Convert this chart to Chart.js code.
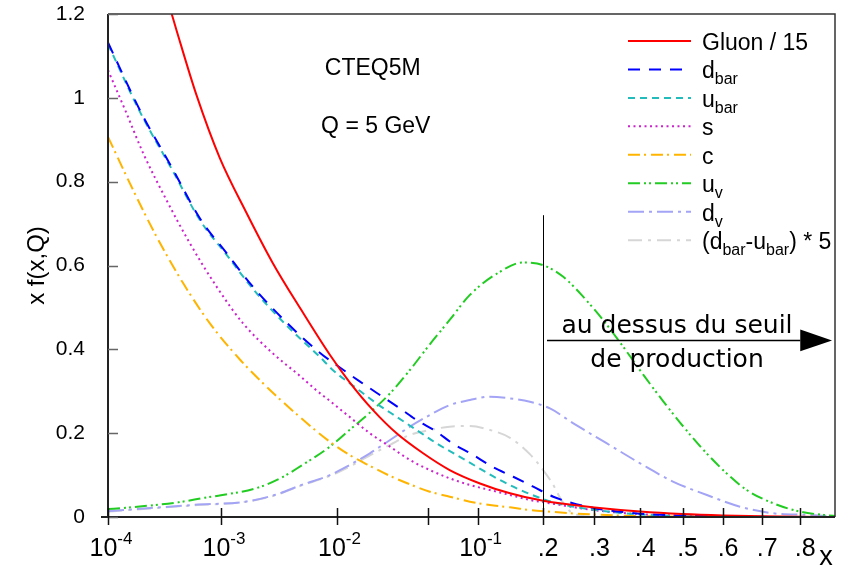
<!DOCTYPE html>
<html>
<head>
<meta charset="utf-8">
<script src="https://cdn.jsdelivr.net/npm/chart.js@4.4.1/dist/chart.umd.min.js"></script>
<style>html,body{margin:0;padding:0;background:#fff;}canvas{display:block;}</style>
</head>
<body>
<canvas id="c" width="841" height="568"></canvas>
<script>
// ---------------- data (x = momentum fraction, y = x f(x,Q)) ----------------
const gluonX = [3.67e-4, 4.04e-4, 6.07e-4, 9.75e-4, 1.675e-3, 2.86e-3, 4.97e-3, 8.79e-3, 0.0128, 0.0198, 0.030, 0.0464, 0.069, 0.103, 0.145, 0.2, 0.231, 0.3, 0.4, 0.5, 0.6, 0.7, 0.8, 0.9];
const gluonY = [1.2, 1.162, 1.007, 0.857, 0.726, 0.605, 0.496, 0.387, 0.322, 0.255, 0.1997, 0.152, 0.112, 0.080, 0.0565, 0.0389, 0.0327, 0.0227, 0.013, 0.007, 0.0035, 0.0015, 0.0005, 0.0001];

const dbarX = [1e-4, 1.915e-4, 3.78e-4, 6.53e-4, 1.117e-3, 1.914e-3, 3.75e-3, 7.23e-3, 9.97e-3, 0.0156, 0.0224, 0.0318, 0.0418, 0.057, 0.0717, 0.0946, 0.119, 0.15, 0.1828, 0.2185, 0.25, 0.3, 0.4, 0.5, 0.6, 0.7, 0.9];
const dbarY = [1.132, 0.971, 0.828, 0.712, 0.630, 0.549, 0.464, 0.392, 0.3626, 0.323, 0.291, 0.259, 0.2314, 0.2035, 0.1758, 0.148, 0.120, 0.096, 0.0723, 0.0484, 0.035, 0.021, 0.008, 0.003, 0.001, 0.0003, 0];

const ubarX = [1e-4, 1.915e-4, 3.78e-4, 6.53e-4, 1.117e-3, 1.914e-3, 3.75e-3, 7.23e-3, 9.3e-3, 0.0146, 0.0211, 0.030, 0.0418, 0.057, 0.0758, 0.0988, 0.1253, 0.1554, 0.189, 0.226, 0.3, 0.4, 0.5, 0.6, 0.8];
const ubarY = [1.128, 0.967, 0.824, 0.708, 0.626, 0.544, 0.457, 0.382, 0.3507, 0.307, 0.271, 0.239, 0.2076, 0.1758, 0.148, 0.120, 0.0923, 0.0685, 0.0484, 0.0327, 0.017, 0.006, 0.002, 0.0007, 0];

const sX = [1e-4, 1.46e-4, 2.05e-4, 3.3e-4, 5.31e-4, 9.17e-4, 1.563e-3, 2.86e-3, 4.97e-3, 6.78e-3, 8.79e-3, 0.0128, 0.0187, 0.0268, 0.0375, 0.0515, 0.069, 0.0907, 0.116, 0.145, 0.177, 0.2124, 0.25, 0.3, 0.4, 0.5, 0.6, 0.8];
const sY = [1.066, 0.963, 0.868, 0.756, 0.653, 0.549, 0.462, 0.390, 0.335, 0.302, 0.277, 0.239, 0.1997, 0.1677, 0.136, 0.112, 0.0923, 0.0763, 0.0644, 0.0525, 0.0406, 0.0327, 0.025, 0.016, 0.007, 0.003, 0.001, 0];

const cX = [1e-4, 1.67e-4, 2.69e-4, 4.64e-4, 7.98e-4, 1.48e-3, 2.51e-3, 5e-3, 8.79e-3, 0.0128, 0.0187, 0.0268, 0.0375, 0.0515, 0.069, 0.0907, 0.116, 0.145, 0.177, 0.2124, 0.25, 0.3, 0.4, 0.5, 0.6, 0.8];
const cY = [0.907, 0.780, 0.669, 0.5575, 0.462, 0.3745, 0.311, 0.236, 0.1797, 0.148, 0.122, 0.098, 0.078, 0.0604, 0.0484, 0.0365, 0.0286, 0.023, 0.0167, 0.0127, 0.009, 0.006, 0.002, 0.0008, 0.0002, 0];

const uvX = [1e-4, 1.43e-4, 4.19e-4, 7.23e-4, 1e-3, 2e-3, 3.3e-3, 5e-3, 8.79e-3, 0.0128, 0.0187, 0.0268, 0.0375, 0.0515, 0.069, 0.0907, 0.13, 0.165, 0.2, 0.2374, 0.2766, 0.318, 0.362, 0.4075, 0.4537, 0.502, 0.551, 0.609, 0.66, 0.729, 0.8, 0.862, 0.9];
const uvY = [0.019, 0.022, 0.035, 0.046, 0.052, 0.068, 0.092, 0.122, 0.1677, 0.2076, 0.249, 0.295, 0.3507, 0.412, 0.470, 0.530, 0.585, 0.607, 0.601, 0.573, 0.5256, 0.470, 0.406, 0.339, 0.276, 0.2154, 0.160, 0.104, 0.0644, 0.0327, 0.0127, 0.005, 0.002];

const dvX = [1e-4, 1.43e-4, 5.87e-4, 1.63e-3, 3e-3, 5e-3, 8.79e-3, 0.0128, 0.0187, 0.0268, 0.0375, 0.0515, 0.069, 0.0907, 0.116, 0.145, 0.177, 0.2124, 0.257, 0.3255, 0.4, 0.478, 0.5595, 0.643, 0.729, 0.8175, 0.9];
const dvY = [0.014, 0.017, 0.029, 0.0365, 0.053, 0.076, 0.100, 0.124, 0.152, 0.1837, 0.2154, 0.2433, 0.267, 0.279, 0.287, 0.283, 0.275, 0.259, 0.2235, 0.176, 0.128, 0.084, 0.0525, 0.0246, 0.0088, 0.005, 0.001];

const diffX = [1e-4, 1.43e-4, 5.87e-4, 1.63e-3, 3e-3, 5e-3, 8.79e-3, 0.0128, 0.0187, 0.0268, 0.0375, 0.0515, 0.069, 0.0907, 0.116, 0.145, 0.177, 0.2, 0.217, 0.233, 0.25, 0.28, 0.32];
const diffY = [0.013, 0.016, 0.028, 0.036, 0.052, 0.075, 0.098, 0.120, 0.147, 0.172, 0.1956, 0.2076, 0.2154, 0.217, 0.2076, 0.1890, 0.150, 0.112, 0.080, 0.042, 0.014, 0.002, 0];

const seriesLabels = ['Gluon / 15', 'd_{bar}', 'u_{bar}', 's', 'c', 'u_{v}', 'd_{v}', '(d_{bar}-u_{bar}) * 5'];

// axis ticks
const xTickValues = [1e-4, 1e-3, 1e-2, 0.05, 0.1, 0.2, 0.3, 0.4, 0.5, 0.6, 0.7, 0.8];
const xTickLabels = ['10^-4', '10^-3', '10^-2', '', '10^-1', '.2', '.3', '.4', '.5', '.6', '.7', '.8'];
const xMin = 1e-4, xMax = 0.893;
const yMin = 0, yMax = 1.2, yStep = 0.2;

// annotations (data coordinates)
const thresholdX = 0.2, thresholdTop = 0.72;
const arrowY = 0.4215, arrowFromX = 0.207, arrowHeadX = 0.80, arrowTipX = 0.885, arrowHalf = 0.026;
const noteLines = ['au dessus du seuil', 'de production'];
const noteX = 0.4865, noteY = [0.438, 0.358];
const infoLines = ['CTEQ5M', 'Q = 5 GeV'];
const infoX = [0.0197, 0.0208], infoY = [1.0545, 0.916];

// ---------------- styling ----------------
const FONT = '"Liberation Sans", Arial, Helvetica, sans-serif';
const styles = [
  {color: '#ff0000', dash: []},
  {color: '#0000ff', dash: [12, 9]},
  {color: '#22bcbc', dash: [7, 5]},
  {color: '#cc22cc', dash: [2, 3.5]},
  {color: '#ffb400', dash: [12, 4, 2, 5]},
  {color: '#22cc22', dash: [12, 4, 2, 3, 2, 4]},
  {color: '#a4a4f6', dash: [16, 5, 3, 5]},
  {color: '#d6d6d6', dash: [14, 6, 3, 6]}
];

// warped x axis: logarithmic at small x, stretched towards large x
const K = 2.8;
function U(x) { return Math.log10(x) + K * x; }

const seriesX = [gluonX, dbarX, ubarX, sX, cX, uvX, dvX, diffX];
const seriesY = [gluonY, dbarY, ubarY, sY, cY, uvY, dvY, diffY];

const datasets = seriesX.map((xs, i) => ({
  label: seriesLabels[i],
  data: xs.map((x, j) => ({x: U(x), y: seriesY[i][j]})),
  borderColor: styles[i].color,
  borderDash: styles[i].dash,
  borderWidth: 2,
  pointRadius: 0,
  fill: false,
  cubicInterpolationMode: 'monotone'
}));

function parseRich(str, size, subSize) {
  const parts = [];
  const re = /_\{([^}]*)\}|\^(\S+)|([^_^]+)/g;
  let m;
  while ((m = re.exec(str)) !== null) {
    if (m[1] !== undefined) parts.push({t: m[1], size: subSize, dy: 6});
    else if (m[2] !== undefined) parts.push({t: m[2], size: subSize, dy: -12});
    else parts.push({t: m[3], size: size, dy: 0});
  }
  return parts;
}
function richWidth(ctx, parts) {
  let w = 0;
  for (const p of parts) { ctx.font = p.size + 'px ' + FONT; w += ctx.measureText(p.t).width; }
  return w;
}
function drawRich(ctx, parts, x, y) {
  let cx = x;
  for (const p of parts) {
    ctx.font = p.size + 'px ' + FONT;
    ctx.fillText(p.t, cx, y + p.dy);
    cx += ctx.measureText(p.t).width;
  }
}

const decor = {
  id: 'decor',
  afterDatasetsDraw(chart) {
    const ctx = chart.ctx, xs = chart.scales.x, ys = chart.scales.y, ca = chart.chartArea;
    ctx.save();
    // frame
    ctx.strokeStyle = '#333'; ctx.lineWidth = 1.5; ctx.setLineDash([]);
    ctx.beginPath();
    ctx.moveTo(ca.left, ca.top); ctx.lineTo(ca.right, ca.top); ctx.lineTo(ca.right, ca.bottom);
    ctx.stroke();
    ctx.strokeStyle = '#222'; ctx.lineWidth = 2;
    ctx.beginPath();
    ctx.moveTo(ca.left, ca.top); ctx.lineTo(ca.left, ca.bottom);
    ctx.moveTo(ca.left - 7, ca.bottom); ctx.lineTo(ca.right, ca.bottom);
    ctx.stroke();
    // y inner ticks
    ctx.strokeStyle = '#666'; ctx.lineWidth = 1.5;
    ctx.beginPath();
    for (const t of ys.ticks) {
      const py = Math.round(ys.getPixelForValue(t.value)) + 0.5;
      ctx.moveTo(ca.left, py); ctx.lineTo(ca.left + 10, py);
    }
    ctx.stroke();
    // x ticks and labels
    ctx.strokeStyle = '#111'; ctx.lineWidth = 1.5;
    ctx.beginPath();
    xs.ticks.forEach(t => {
      const px = Math.round(xs.getPixelForValue(t.value)) + 0.5;
      ctx.moveTo(px, ca.bottom - 9); ctx.lineTo(px, ca.bottom + 8);
    });
    ctx.stroke();
    ctx.fillStyle = '#000'; ctx.textAlign = 'left'; ctx.textBaseline = 'alphabetic';
    xs.ticks.forEach((t, i) => {
      const lab = xTickLabels[i];
      if (!lab) return;
      const parts = parseRich(lab, 25, 17);
      const w = richWidth(ctx, parts);
      const px = xs.getPixelForValue(t.value);
      const off = lab.indexOf('^') >= 0 ? 3 : 5;
      drawRich(ctx, parts, px + off - w / 2, ca.bottom + 39);
    });
    // axis variable
    ctx.font = '27px ' + FONT;
    ctx.textAlign = 'center';
    ctx.fillText('x', ca.right - 9, ca.bottom + 48);

    // threshold line
    ctx.strokeStyle = '#000'; ctx.lineWidth = 1;
    const tx = Math.round(xs.getPixelForValue(U(thresholdX))) + 0.5;
    ctx.beginPath();
    ctx.moveTo(tx, ys.getPixelForValue(thresholdTop)); ctx.lineTo(tx, ys.getPixelForValue(0));
    ctx.stroke();
    // arrow
    const ay = Math.round(ys.getPixelForValue(arrowY)) + 0.5;
    const ax0 = xs.getPixelForValue(U(arrowFromX));
    const axh = xs.getPixelForValue(U(arrowHeadX));
    const axt = xs.getPixelForValue(U(arrowTipX));
    ctx.lineWidth = 1.5;
    ctx.beginPath(); ctx.moveTo(ax0, ay); ctx.lineTo(axh, ay); ctx.stroke();
    ctx.fillStyle = '#000';
    ctx.beginPath();
    ctx.moveTo(axt, ay);
    ctx.lineTo(axh, ys.getPixelForValue(arrowY + arrowHalf));
    ctx.lineTo(axh, ys.getPixelForValue(arrowY - arrowHalf));
    ctx.closePath(); ctx.fill();
    // note text
    ctx.textAlign = 'center';
    ctx.font = '25px "DejaVu Sans", "Liberation Sans", sans-serif';
    noteLines.forEach((s, i) => {
      ctx.fillText(s, xs.getPixelForValue(U(noteX)), ys.getPixelForValue(noteY[i]));
    });
    // info text
    ctx.font = '23px ' + FONT;
    infoLines.forEach((s, i) => {
      ctx.fillText(s, xs.getPixelForValue(U(infoX[i])), ys.getPixelForValue(infoY[i]));
    });

    // legend
    ctx.textAlign = 'left';
    const lx0 = ca.right - 207, lx1 = ca.right - 144, tx0 = ca.right - 133;
    chart.data.datasets.forEach((ds, i) => {
      const ly = ca.top + 27 + i * 28.45;
      ctx.strokeStyle = ds.borderColor; ctx.lineWidth = 2; ctx.setLineDash(ds.borderDash);
      ctx.beginPath(); ctx.moveTo(lx0, ly); ctx.lineTo(lx1, ly); ctx.stroke();
      ctx.setLineDash([]);
      ctx.fillStyle = '#000';
      drawRich(ctx, parseRich(seriesLabels[i], 23, 16), tx0, ly + 9);
    });
    ctx.restore();
  }
};

new Chart(document.getElementById('c'), {
  type: 'line',
  data: {datasets},
  options: {
    responsive: false,
    animation: false,
    devicePixelRatio: 1,
    layout: {padding: {top: 14, right: 6, left: 0, bottom: 0}},
    plugins: {legend: {display: false}, tooltip: {enabled: false}, title: {display: false}},
    scales: {
      x: {
        type: 'linear',
        min: U(xMin), max: U(xMax),
        grid: {display: false}, border: {display: false},
        ticks: {display: false},
        afterBuildTicks: s => { s.ticks = xTickValues.map(v => ({value: U(v)})); },
        afterFit: s => { s.height = 51; s.paddingLeft = 0; s.paddingRight = 0; }
      },
      y: {
        type: 'linear',
        min: yMin, max: yMax,
        grid: {display: false}, border: {display: false},
        ticks: {stepSize: yStep, color: '#000', padding: 15, font: {size: 21, family: FONT},
                callback: v => String(parseFloat(Number(v).toFixed(1)))},
        title: {display: true, text: 'x f(x,Q)', color: '#000', font: {size: 24, family: FONT}, padding: {top: 23, bottom: 0}},
        afterFit: s => { s.width = 108; s.paddingTop = 0; s.paddingBottom = 0; }
      }
    }
  },
  plugins: [decor]
});
</script>
</body>
</html>
